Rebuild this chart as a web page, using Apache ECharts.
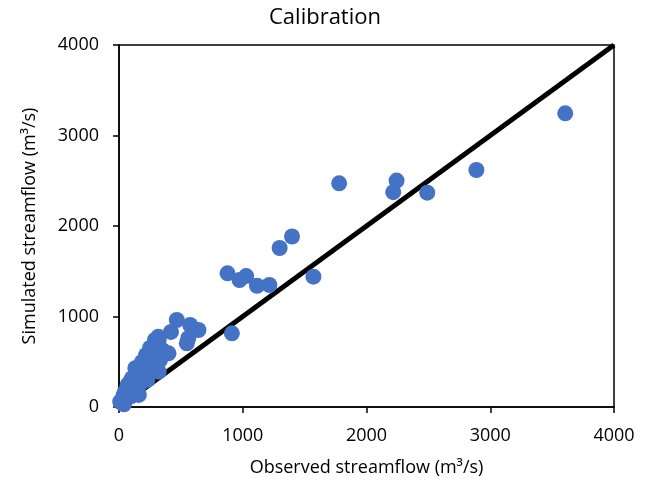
<!DOCTYPE html>
<html>
<head>
<meta charset="utf-8">
<script src="https://cdn.jsdelivr.net/npm/echarts@6/dist/echarts.min.js"></script>
<style>
html,body{margin:0;padding:0;background:#fff;}
#chart{width:650px;height:484px;}
</style>
</head>
<body>
<div id="chart"></div>
<script>
// Observed vs simulated streamflow (m³/s)
const observed = [
  3606, 2888, 2491, 2243, 2216, 1779, 1571, 1398, 1298, 1215, 1115, 1028, 974, 877, 912,
  467, 575, 642, 548, 560, 420, 318, 305, 321, 400, 348, 278, 267, 321, 213, 143, 132, 197,
  105, 38, 160, 60, 80, 20, 30, 50, 70, 90, 110, 120, 140, 150, 170, 100, 130, 40, 10, 180,
  200, 240, 260, 280, 300, 230,
  73, 105, 146, 186, 219, 251, 291, 170, 235, 275, 332
];
const simulated = [
  3245, 2619, 2368, 2502, 2374, 2472, 1440, 1884, 1757, 1348, 1340, 1447, 1403, 1477, 814,
  961, 906, 851, 704, 760, 830, 777, 666, 740, 593, 630, 556, 575, 390, 317, 428, 428, 335,
  206, 133, 133, 100, 160, 50, 90, 170, 240, 280, 300, 220, 260, 200, 310, 120, 180, 30, 60, 270,
  360, 380, 420, 480, 520, 300,
  243, 320, 409, 497, 575, 652, 740, 276, 354, 431, 519
];
const lineX = [0, 4000];
const lineY = [0, 4000];
const ticks = [0, 1000, 2000, 3000, 4000];

const points = observed.map((v, i) => [v, simulated[i]]);
const linePts = lineX.map((v, i) => [v, lineY[i]]);

const FONT = '"Open Sans", "Noto Sans", sans-serif';
const chart = echarts.init(document.getElementById('chart'), null, {renderer: 'canvas'});
chart.setOption({
  backgroundColor: '#fff',
  animation: false,
  title: {
    text: 'Calibration',
    left: 'center',
    top: 2,
    textStyle: {fontFamily: FONT, fontSize: 22, fontWeight: 'normal', color: '#000'}
  },
  grid: {
    left: 119, right: 36, top: 45, bottom: 77,
    show: true, borderColor: '#000', borderWidth: 1.5, backgroundColor: 'transparent'
  },
  xAxis: {
    type: 'value', min: ticks[0], max: ticks[ticks.length - 1], interval: 1000,
    name: 'Observed streamflow (m³/s)', nameLocation: 'middle', nameGap: 52,
    nameTextStyle: {fontFamily: FONT, fontSize: 18, color: '#000'},
    axisLine: {show: true, lineStyle: {color: '#000', width: 1.5}},
    axisTick: {show: true, inside: false, length: 6, lineStyle: {color: '#000', width: 1.5}},
    axisLabel: {fontFamily: FONT, fontSize: 18, color: '#000', margin: 20, formatter: v => String(v)},
    splitLine: {show: false}
  },
  yAxis: {
    type: 'value', min: ticks[0], max: ticks[ticks.length - 1], interval: 1000,
    name: 'Simulated streamflow (m³/s)', nameLocation: 'middle', nameGap: 80,
    nameTextStyle: {fontFamily: FONT, fontSize: 18, color: '#000'},
    axisLine: {show: true, lineStyle: {color: '#000', width: 1.5}},
    axisTick: {show: true, inside: false, length: 6, lineStyle: {color: '#000', width: 1.5}},
    axisLabel: {fontFamily: FONT, fontSize: 18, color: '#000', margin: 20, formatter: v => String(v)},
    splitLine: {show: false}
  },
  series: [
    {
      type: 'line', data: linePts, symbol: 'none', z: 1,
      lineStyle: {color: '#000', width: 5}, silent: true
    },
    {
      type: 'scatter', data: points, symbol: 'circle', symbolSize: 16, z: 2,
      itemStyle: {color: '#4472C4', opacity: 1}
    }
  ]
});
</script>
</body>
</html>
